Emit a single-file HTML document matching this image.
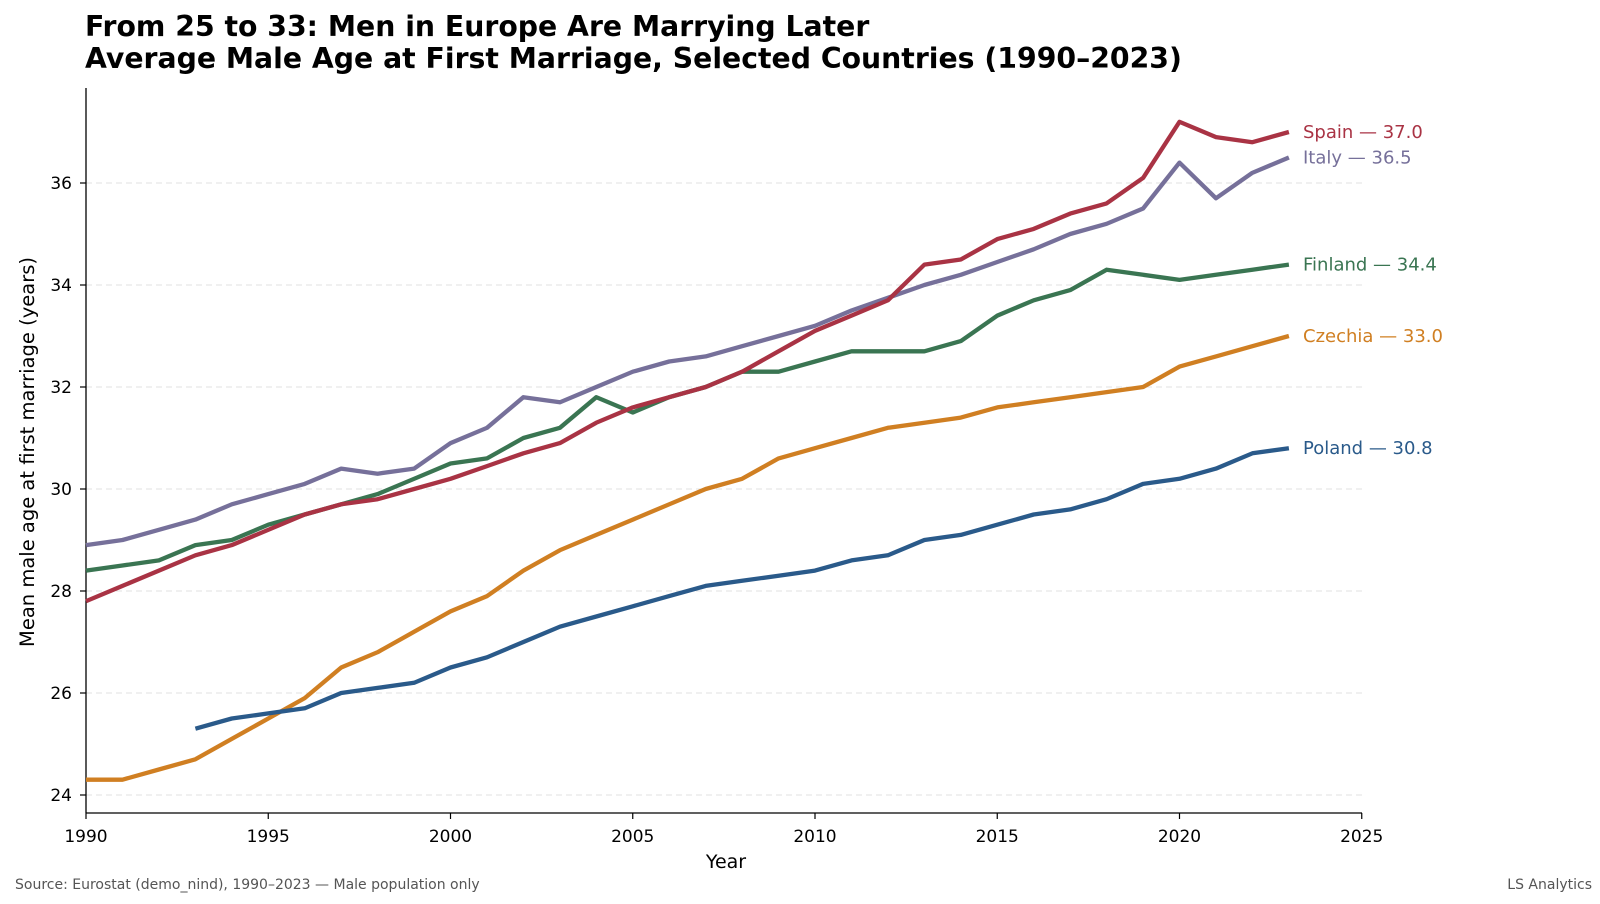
<!DOCTYPE html>
<html><head><meta charset="utf-8"><style>
body{margin:0;background:#fff;}
svg{display:block;font-family:"DejaVu Sans","Liberation Sans",sans-serif;}
</style></head><body>
<svg id="c" width="1600" height="904" xmlns="http://www.w3.org/2000/svg">
<text x="85" y="36" font-size="28.3" font-weight="bold" fill="#000">From 25 to 33: Men in Europe Are Marrying Later</text>
<text x="85" y="68" font-size="28.3" font-weight="bold" fill="#000">Average Male Age at First Marriage, Selected Countries (1990–2023)</text>
<g id="grid"></g>
<line x1="86" y1="88" x2="86" y2="813" stroke="#000" stroke-width="1.3"/>
<line x1="86" y1="813" x2="1362" y2="813" stroke="#000" stroke-width="1.3"/>
<g id="ticks" font-size="17" fill="#000"></g>
<g id="series" fill="none" stroke-width="4.3" stroke-linejoin="round"></g>
<g id="labels" font-size="18"></g>
<text x="726" y="868" font-size="19" text-anchor="middle">Year</text>
<text transform="translate(34,452) rotate(-90)" font-size="19.5" text-anchor="middle">Mean male age at first marriage (years)</text>
<text x="15" y="889" font-size="14" fill="#555">Source: Eurostat (demo_nind), 1990–2023 — Male population only</text>
<text x="1592" y="889" font-size="14" fill="#555" text-anchor="end">LS Analytics</text>
</svg>
<script>
var NS="http://www.w3.org/2000/svg";
function X(yr){return 86+(yr-1990)*36.45;}
function Y(v){return 795-(v-24)*51;}
function el(t,a,p,txt){var e=document.createElementNS(NS,t);for(var k in a)e.setAttribute(k,a[k]);if(txt!==undefined)e.textContent=txt;document.getElementById(p).appendChild(e);return e;}
for(var v=24;v<=36;v+=2){
 el("line",{x1:86,x2:1362,y1:Y(v),y2:Y(v),stroke:"#e2e2e2","stroke-width":1,"stroke-dasharray":"6,4"},"grid");
 el("line",{x1:80,x2:86,y1:Y(v),y2:Y(v),stroke:"#000","stroke-width":1.2},"ticks");
 el("text",{x:72,y:Y(v)+6,"text-anchor":"end"},"ticks",String(v));
}
for(var yr=1990;yr<=2025;yr+=5){
 el("line",{x1:X(yr),x2:X(yr),y1:813,y2:819,stroke:"#000","stroke-width":1.2},"ticks");
 el("text",{x:X(yr),y:842,"text-anchor":"middle"},"ticks",String(yr));
}
var S=[
["Czechia","#d07f22",1990,[24.3,24.3,24.5,24.7,25.1,25.5,25.9,26.5,26.8,27.2,27.6,27.9,28.4,28.8,29.1,29.4,29.7,30.0,30.2,30.6,30.8,31.0,31.2,31.3,31.4,31.6,31.7,31.8,31.9,32.0,32.4,32.6,32.8,33.0],"33.0"],
["Poland","#2a5a8a",1993,[25.3,25.5,25.6,25.7,26.0,26.1,26.2,26.5,26.7,27.0,27.3,27.5,27.7,27.9,28.1,28.2,28.3,28.4,28.6,28.7,29.0,29.1,29.3,29.5,29.6,29.8,30.1,30.2,30.4,30.7,30.8],"30.8"],
["Finland","#3a7552",1990,[28.4,28.5,28.6,28.9,29.0,29.3,29.5,29.7,29.9,30.2,30.5,30.6,31.0,31.2,31.8,31.5,31.8,32.0,32.3,32.3,32.5,32.7,32.7,32.7,32.9,33.4,33.7,33.9,34.3,34.2,34.1,34.2,34.3,34.4],"34.4"],
["Italy","#76709a",1990,[28.9,29.0,29.2,29.4,29.7,29.9,30.1,30.4,30.3,30.4,30.9,31.2,31.8,31.7,32.0,32.3,32.5,32.6,32.8,33.0,33.2,33.5,33.75,34.0,34.2,34.45,34.7,35.0,35.2,35.5,36.4,35.7,36.2,36.5],"36.5"],
["Spain","#a93344",1990,[27.8,28.1,28.4,28.7,28.9,29.2,29.5,29.7,29.8,30.0,30.2,30.45,30.7,30.9,31.3,31.6,31.8,32.0,32.3,32.7,33.1,33.4,33.7,34.4,34.5,34.9,35.1,35.4,35.6,36.1,37.2,36.9,36.8,37.0],"37.0"]
];
S.forEach(function(s){
 var pts=s[3].map(function(v,i){return X(s[2]+i).toFixed(1)+","+Y(v).toFixed(1);}).join(" ");
 el("polyline",{points:pts,stroke:s[1]},"series");
 var last=s[3][s[3].length-1];
 el("text",{x:1303,y:Y(last)+6,fill:s[1]},"labels",s[0]+" — "+s[4]);
});
</script>
</body></html>
